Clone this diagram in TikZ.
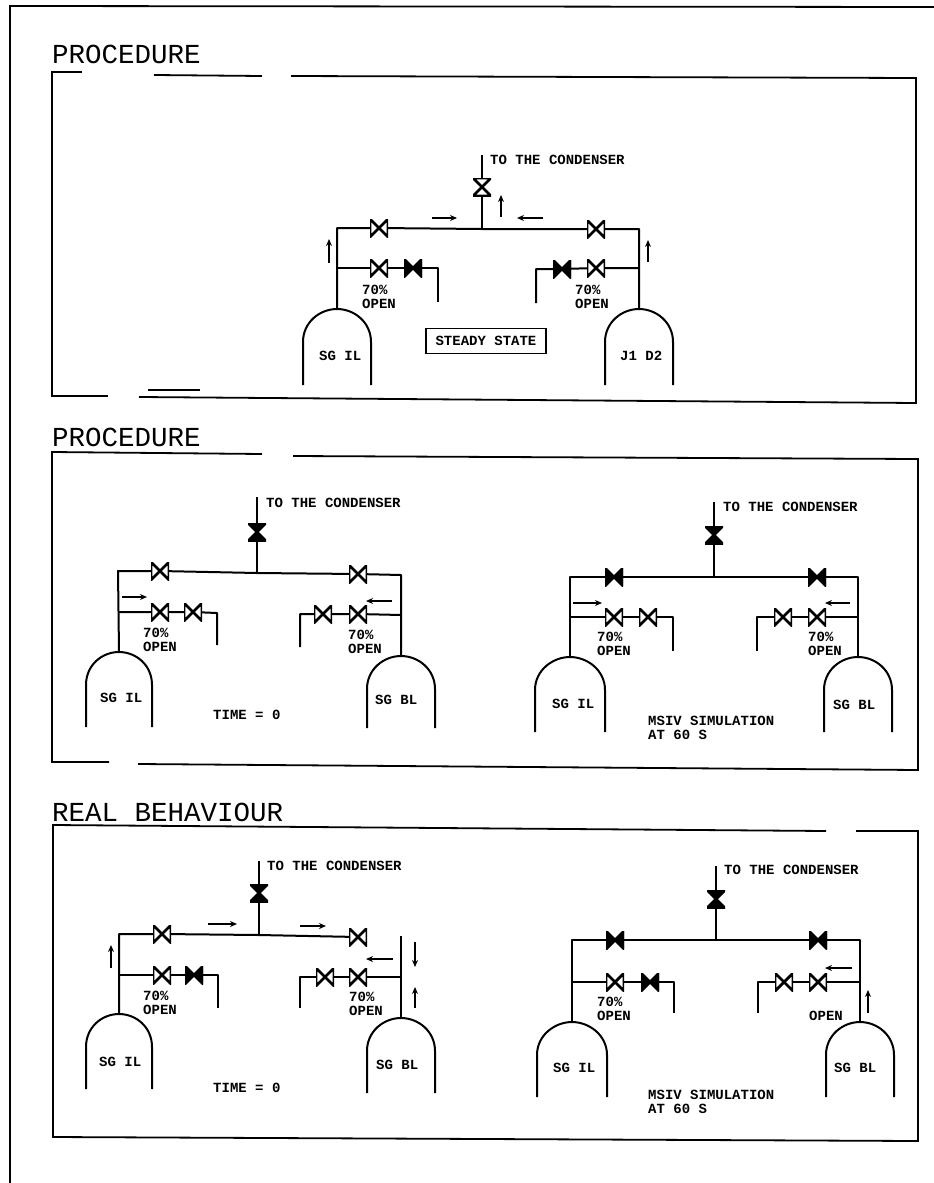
\documentclass[tikz,border=0pt]{standalone}
\usepackage{fontspec}
\setmainfont{Liberation Mono}
\usepackage{tkz-euclide}
\usetikzlibrary{arrows.meta}
\tikzset{
  pipe/.style={line width=2pt,line join=round},
  frame/.style={line width=1.8pt},
  flow/.style={line width=1.9pt,-{Stealth[length=7pt,width=6pt]}},
  lbl/.style={font=\fontsize{14}{14}\selectfont\bfseries,inner sep=0pt,anchor=west,align=left},
  title/.style={font=\fontsize{27.5}{27}\selectfont,inner sep=0pt,anchor=west},
  valve/.style={inner sep=0pt,minimum size=18pt,path picture={
    \draw[line width=2.8pt,fill=#1] (path picture bounding box.north west)
      -- (path picture bounding box.south east) -- (path picture bounding box.north east)
      -- (path picture bounding box.south west) -- cycle;}},
  vvalve/.style={inner sep=0pt,minimum size=18pt,path picture={
    \draw[line width=2.8pt,fill=#1] (path picture bounding box.north west)
      -- (path picture bounding box.north east) -- (path picture bounding box.south west)
      -- (path picture bounding box.south east) -- cycle;}}
}
\newcommand{\tank}[5]{%
  \begin{scope}[shift={(#2,#3)}]
    \coordinate (#1) at (0,0);
    \draw[pipe] (-#4,#5) -- (-#4,33) .. controls (-#4,13) and (-17,0) .. (0,0)
      .. controls (17,0) and (#4,13) .. (#4,33) -- (#4,#5);
  \end{scope}}
\begin{document}
\begin{tikzpicture}[x=1pt,y=-1pt]
  \useasboundingbox (0,0) rectangle (934,1183);
  % sheet and panels
  \draw[frame] (934,7) -- (10,6) -- (10,1183);
  \draw[frame] (82,72) -- (52,72) -- (52,396) -- (108,396);
  \draw[frame] (139,397) -- (916,403) -- (916,78) -- (291,76);
  \draw[frame] (262,76) -- (154,75);
  \draw[frame] (148,390) -- (200,390);
  \draw[frame] (262,454) -- (52,452) -- (52,762) -- (109,762);
  \draw[frame] (138,764) -- (918,770) -- (918,459) -- (293,456);
  \draw[frame] (826,831) -- (53,825) -- (53,1137) -- (918,1141) -- (918,831) -- (856,831);
  \node[title] (titleA) at (52,54) {PROCEDURE};
  \node[title] (titleB) at (52,437) {PROCEDURE};
  \node[title] (titleC) at (52,812) {REAL BEHAVIOUR};

  % steady state
  \tkzDefPoints{337/228/topLa,639/229/topRa,482/229/teea,482/155/outa,337/268/midLa,438/268/cornLa,438/302/endLa,639/268/midRa,536/269/cornRa,536/303/endRa}
  \tank{sgLa}{337}{309}{34}{76}
  \tank{sgRa}{639}{309}{34}{76}
  \node[vvalve=white] (vOuta) at (482,187) {};
  \node[valve=white] (vTopLa) at (379,228) {};
  \node[valve=white] (vTopRa) at (596,229) {};
  \node[valve=white] (vMidLa) at (379,268) {};
  \node[valve=black] (vEndLa) at (413,268) {};
  \node[valve=white] (vMidRa) at (596,268) {};
  \node[valve=black] (vEndRa) at (562,269) {};
  \draw[pipe] (outa) -- (vOuta) -- (teea);
  \draw[pipe] (sgLa) -- (topLa) -- (vTopLa) -- (teea) -- (vTopRa) -- (topRa) -- (sgRa);
  \draw[pipe] (midLa) -- (vMidLa) -- (vEndLa) -- (cornLa) -- (endLa);
  \draw[pipe] (midRa) -- (vMidRa) -- (vEndRa) -- (cornRa) -- (endRa);
  \node[lbl] (condA) at (490,160) {TO THE CONDENSER};
  \node[lbl] (openLa) at (362,297) {70\%\\OPEN};
  \node[lbl] (openRa) at (575,297) {70\%\\OPEN};
  \node[lbl,draw,line width=1.8pt,anchor=center,minimum width=120pt,minimum height=25pt] (steady) at (486,341) {STEADY STATE};
  \node[lbl] (nameLa) at (319,356) {SG IL};
  \node[lbl] (nameRa) at (620,356) {J1 D2};
  \draw[flow] (432,218) -- (457,218);
  \draw[flow] (543,218) -- (517,218);
  \draw[flow] (501,217) -- (501,195);
  \draw[flow] (329,263) -- (329,239);
  \draw[flow] (648,262) -- (648,240);

  % procedure, time 0
  \tkzDefPoints{118/571/topLb,401/575/topRb,257/573/teeb,257/497/outb,118/612/midLb,217/613/cornLb,217/645/endLb,401/615/midRb,300/614/cornRb,300/647/endRb}
  \tank{sgLb}{119}{652}{33}{75}
  \tank{sgRb}{401}{656}{34}{72}
  \node[vvalve=black] (vOutb) at (257,532) {};
  \node[valve=white] (vTopLb) at (160,571) {};
  \node[valve=white] (vTopRb) at (358,574) {};
  \node[valve=white] (vMidLb) at (160,612) {};
  \node[valve=white] (vEndLb) at (193,612) {};
  \node[valve=white] (vMidRb) at (358,614) {};
  \node[valve=white] (vEndRb) at (323,614) {};
  \draw[pipe] (outb) -- (vOutb) -- (teeb);
  \draw[pipe] (sgLb) -- (topLb) -- (vTopLb) -- (teeb) -- (vTopRb) -- (topRb) -- (sgRb);
  \draw[pipe] (midLb) -- (vMidLb) -- (vEndLb) -- (cornLb) -- (endLb);
  \draw[pipe] (midRb) -- (vMidRb) -- (vEndRb) -- (cornRb) -- (endRb);
  \node[lbl] (condB) at (266,503) {TO THE CONDENSER};
  \node[lbl] (openLb) at (143,640) {70\%\\OPEN};
  \node[lbl] (openRb) at (348,642) {70\%\\OPEN};
  \node[lbl] (nameLb) at (100,698) {SG IL};
  \node[lbl] (nameRb) at (375,700) {SG BL};
  \node[lbl] (timeB) at (213,715) {TIME = 0};
  \draw[flow] (122,597) -- (147,597);
  \draw[flow] (392,601) -- (366,601);

  % procedure, msiv at 60 s
  \tkzDefPoints{570/577/topLc,858/577/topRc,714/577/teec,714/502/outc,570/617/midLc,673/617/cornLc,673/651/endLc,858/617/midRc,757/617/cornRc,757/651/endRc}
  \tank{sgLc}{570}{657}{35}{75}
  \tank{sgRc}{858}{657}{34}{75}
  \node[vvalve=black] (vOutc) at (714,535) {};
  \node[valve=black] (vTopLc) at (614,577) {};
  \node[valve=black] (vTopRc) at (817,577) {};
  \node[valve=white] (vMidLc) at (614,617) {};
  \node[valve=white] (vEndLc) at (648,617) {};
  \node[valve=white] (vMidRc) at (817,617) {};
  \node[valve=white] (vEndRc) at (783,617) {};
  \draw[pipe] (outc) -- (vOutc) -- (teec);
  \draw[pipe] (sgLc) -- (topLc) -- (vTopLc) -- (teec) -- (vTopRc) -- (topRc) -- (sgRc);
  \draw[pipe] (midLc) -- (vMidLc) -- (vEndLc) -- (cornLc) -- (endLc);
  \draw[pipe] (midRc) -- (vMidRc) -- (vEndRc) -- (cornRc) -- (endRc);
  \node[lbl] (condC) at (723,507) {TO THE CONDENSER};
  \node[lbl] (openLc) at (597,644) {70\%\\OPEN};
  \node[lbl] (openRc) at (808,644) {70\%\\OPEN};
  \node[lbl] (nameLc) at (552,704) {SG IL};
  \node[lbl] (nameRc) at (833,705) {SG BL};
  \node[lbl] (timeC) at (648,728) {MSIV SIMULATION\\AT 60 S};
  \draw[flow] (573,603) -- (602,603);
  \draw[flow] (850,603) -- (825,603);

  % real behaviour, time 0
  \tkzDefPoints{119/934/topLd,259/935/teed,259/861/outd,119/975/midLd,218/975/cornLd,218/1008/endLd,401/977/midRd,300/977/cornRd,300/1008/endRd,401/936/stubRd}
  \tank{sgLd}{119}{1014}{33}{75}
  \tank{sgRd}{401}{1018}{34}{75}
  \node[vvalve=black] (vOutd) at (259,893) {};
  \node[valve=white] (vTopLd) at (162,934) {};
  \node[valve=white] (vTopRd) at (358,937) {};
  \node[valve=white] (vMidLd) at (162,975) {};
  \node[valve=black] (vEndLd) at (194,975) {};
  \node[valve=white] (vMidRd) at (358,977) {};
  \node[valve=white] (vEndRd) at (325,977) {};
  \draw[pipe] (outd) -- (vOutd) -- (teed);
  \draw[pipe] (sgLd) -- (topLd) -- (vTopLd) -- (teed) -- (vTopRd);
  \draw[pipe] (stubRd) -- (sgRd);
  \draw[pipe] (midLd) -- (vMidLd) -- (vEndLd) -- (cornLd) -- (endLd);
  \draw[pipe] (midRd) -- (vMidRd) -- (vEndRd) -- (cornRd) -- (endRd);
  \node[lbl] (condD) at (267,866) {TO THE CONDENSER};
  \node[lbl] (openLd) at (143,1003) {70\%\\OPEN};
  \node[lbl] (openRd) at (349,1004) {70\%\\OPEN};
  \node[lbl] (nameLd) at (99,1062) {SG IL};
  \node[lbl] (nameRd) at (376,1065) {SG BL};
  \node[lbl] (timeD) at (213,1088) {TIME = 0};
  \draw[flow] (208,924) -- (237,924);
  \draw[flow] (300,926) -- (326,926);
  \draw[flow] (111,968) -- (111,945);
  \draw[flow] (415,942) -- (415,967);
  \draw[flow] (415,1008) -- (415,987);
  \draw[flow] (393,959) -- (366,959);

  % real behaviour, msiv at 60 s
  \tkzDefPoints{572/940/topLe,860/940/topRe,716/940/teee,716/866/oute,572/982/midLe,674/982/cornLe,674/1013/endLe,860/982/midRe,758/982/cornRe,758/1013/endRe}
  \tank{sgLe}{572}{1022}{35}{75}
  \tank{sgRe}{860}{1022}{34}{75}
  \node[vvalve=black] (vOute) at (716,899) {};
  \node[valve=black] (vTopLe) at (615,940) {};
  \node[valve=black] (vTopRe) at (818,940) {};
  \node[valve=white] (vMidLe) at (615,982) {};
  \node[valve=black] (vEndLe) at (650,982) {};
  \node[valve=white] (vMidRe) at (818,982) {};
  \node[valve=white] (vEndRe) at (784,982) {};
  \draw[pipe] (oute) -- (vOute) -- (teee);
  \draw[pipe] (sgLe) -- (topLe) -- (vTopLe) -- (teee) -- (vTopRe) -- (topRe) -- (sgRe);
  \draw[pipe] (midLe) -- (vMidLe) -- (vEndLe) -- (cornLe) -- (endLe);
  \draw[pipe] (midRe) -- (vMidRe) -- (vEndRe) -- (cornRe) -- (endRe);
  \node[lbl] (condE) at (724,870) {TO THE CONDENSER};
  \node[lbl] (openLe) at (597,1009) {70\%\\OPEN};
  \node[lbl] (openRe) at (809,1016) {OPEN};
  \node[lbl] (nameLe) at (553,1068) {SG IL};
  \node[lbl] (nameRe) at (834,1068) {SG BL};
  \node[lbl] (timeE) at (648,1102) {MSIV SIMULATION\\AT 60 S};
  \draw[flow] (852,968) -- (825,968);
  \draw[flow] (868,1013) -- (868,990);
\end{tikzpicture}
\end{document}
